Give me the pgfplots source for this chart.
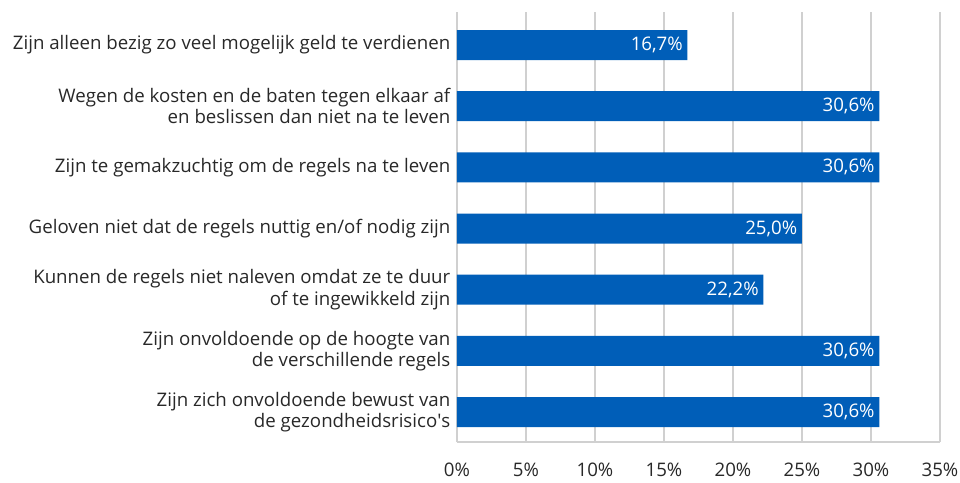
\documentclass[border=0pt]{standalone}
\usepackage{fontspec}
\setmainfont{Open Sans}
\usepackage{pgfplots}
\pgfplotsset{compat=1.18}
\definecolor{barblue}{RGB}{0,94,184}
\definecolor{gridgray}{RGB}{208,208,208}
\definecolor{txt}{RGB}{40,40,40}
\begin{document}
\begin{tikzpicture}[font=\fontsize{14}{16}\selectfont]
\useasboundingbox (-342.75pt,-30pt) rectangle (377.25pt,331.5pt);
\begin{axis}[
  scale only axis,
  width=362.25pt, height=322.5pt,
  xbar, bar width=0.49,
  xmin=0, xmax=35, ymin=-0.49, ymax=6.54,
  xtick={0,5,...,35},
  xticklabel={\pgfmathprintnumber{\tick}\%},
  /pgf/number format/assume math mode=true,
  ytick={0,...,6},
  yticklabels={{Zijn zich onvoldoende bewust van\\de gezondheidsrisico\textquotesingle s},
               {Zijn onvoldoende op de hoogte van\\de verschillende regels},
               {Kunnen de regels niet naleven omdat ze te duur\\of te ingewikkeld zijn},
               {Geloven niet dat de regels nuttig en/of nodig zijn},
               {Zijn te gemakzuchtig om de regels na te leven},
               {Wegen de kosten en de baten tegen elkaar af\\en beslissen dan niet na te leven},
               {Zijn alleen bezig zo veel mogelijk geld te verdienen}},
  yticklabel style={align=right, text=txt, font=\fontsize{14}{16}\selectfont, xshift=-1.5pt},
  xticklabel style={text=txt, yshift=-12pt, font=\fontsize{14}{16}\selectfont},
  major tick length=0pt,
  xmajorgrids, grid style={gridgray, line width=1pt},
  axis x line*=bottom, axis y line*=left,
  axis line style={gridgray, line width=1pt, -},
  point meta=x,
  nodes near coords={\pgfmathprintnumber{\pgfplotspointmeta}\%},
  nodes near coords style={anchor=east, text=white, font=\fontsize{14}{16}\selectfont,
    /pgf/number format/.cd, fixed, fixed zerofill, precision=1, use comma, assume math mode=true},
]
\addplot[fill=barblue, draw=none] coordinates {
  (30.6,0)
  (30.6,1)
  (22.2,2)
  (25.0,3)
  (30.6,4)
  (30.6,5)
  (16.7,6)
};
\end{axis}
\end{tikzpicture}
\end{document}
